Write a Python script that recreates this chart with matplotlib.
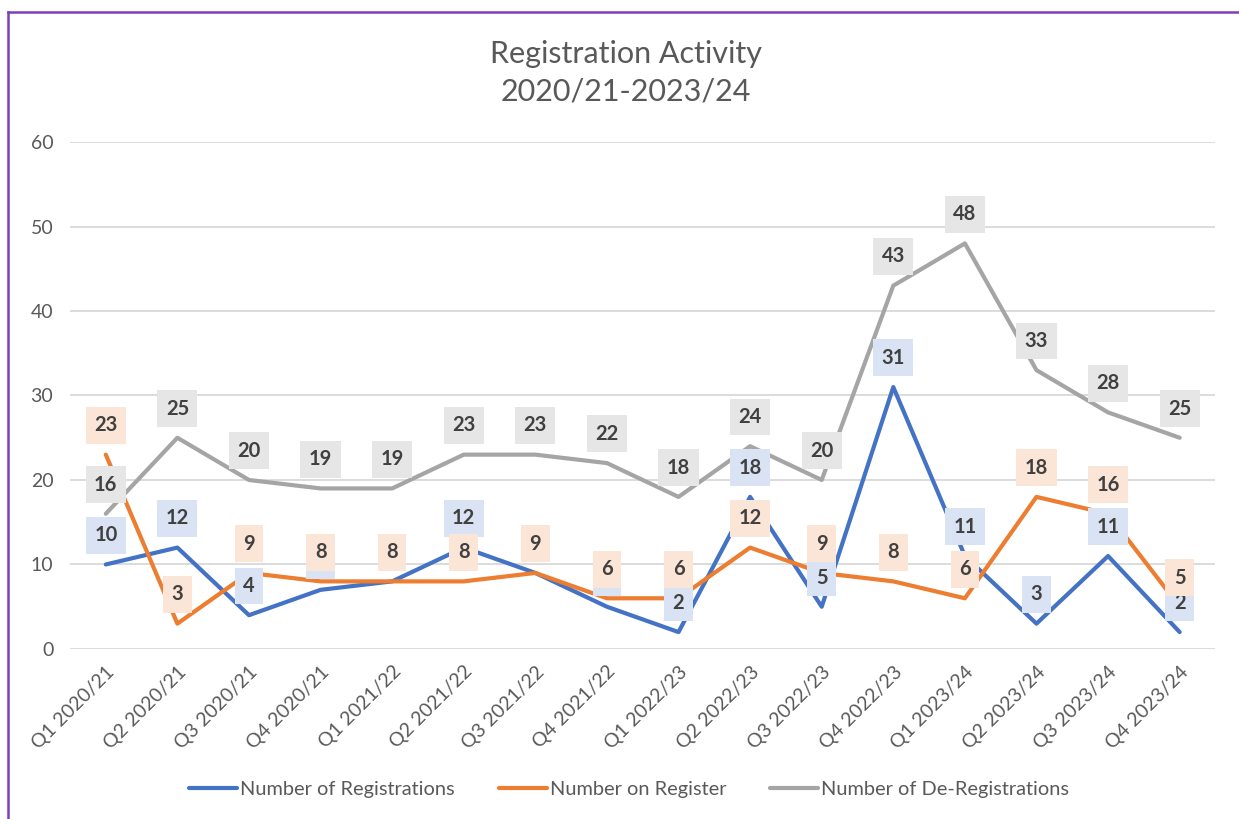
import matplotlib.pyplot as plt
import numpy as np
from matplotlib.lines import Line2D

plt.rcParams['font.family'] = ['Lato', 'DejaVu Sans']

quarters = ['Q1 2020/21', 'Q2 2020/21', 'Q3 2020/21', 'Q4 2020/21',
            'Q1 2021/22', 'Q2 2021/22', 'Q3 2021/22', 'Q4 2021/22',
            'Q1 2022/23', 'Q2 2022/23', 'Q3 2022/23', 'Q4 2022/23',
            'Q1 2023/24', 'Q2 2023/24', 'Q3 2023/24', 'Q4 2023/24']
registrations = [10, 12, 4, 7, 8, 12, 9, 5, 2, 18, 5, 31, 11, 3, 11, 2]
on_register = [23, 3, 9, 8, 8, 8, 9, 6, 6, 12, 9, 8, 6, 18, 16, 5]
de_registrations = [16, 25, 20, 19, 19, 23, 23, 22, 18, 24, 20, 43, 48, 33, 28, 25]

series = [
    ('Number of Registrations', registrations, '#4472C4', '#DAE3F3'),
    ('Number on Register', on_register, '#ED7D31', '#FBE5D6'),
    ('Number of De-Registrations', de_registrations, '#A5A5A5', '#E7E6E6'),
]

fig = plt.figure(figsize=(12.39, 8.19), dpi=100)
ax = fig.add_axes([0.0565, 0.2076, 0.9245, 0.619])

x = np.arange(len(quarters))
for name, vals, col, bg in series:
    ax.plot(x, vals, color=col, lw=3, solid_capstyle='round', label=name, zorder=3)
for name, vals, col, bg in series:
    for xi, v in zip(x, vals):
        ax.annotate(str(v), (xi, v), xytext=(0, 21), textcoords='offset points',
                    ha='center', va='center', fontsize=14.5, fontweight='bold',
                    color='#404040', zorder=5,
                    bbox=dict(boxstyle='square,pad=0.42', fc=bg, ec='none'))

ax.set_xlim(-0.5, len(quarters) - 0.5)
ax.set_ylim(0, 60)
ax.set_yticks(range(0, 61, 10))
ax.set_xticks(x)
ax.set_xticklabels(quarters, rotation=45, ha='right', rotation_mode='anchor')
ax.tick_params(axis='both', length=0, colors='#595959', labelsize=14)
ax.tick_params(axis='y', pad=12)
ax.tick_params(axis='x', pad=10)
ax.grid(axis='y', color='#D9D9D9', lw=1.3)
ax.set_axisbelow(True)
for s in ax.spines.values():
    s.set_visible(False)

fig.text(0.505, 0.911, 'Registration Activity\n2020/21-2023/24', ha='center', va='center',
         fontsize=22, color='#595959', linespacing=1.4)

handles = [Line2D([], [], color=c, lw=3, solid_capstyle='round') for _, _, c, _ in series]
fig.legend(handles, [s[0] for s in series], loc='center', bbox_to_anchor=(0.508, 0.036),
           ncol=3, frameon=False, fontsize=14.4, labelcolor='#595959',
           handlelength=2.4, handletextpad=0.15, columnspacing=2.2)

# purple frame edges from the screenshot
fig.add_artist(Line2D([0.0065, 0.0065], [0, 0.985], color='#7E3FB8', lw=1.8, transform=fig.transFigure))
fig.add_artist(Line2D([0.0065, 1], [0.985, 0.985], color='#7E3FB8', lw=1.8, transform=fig.transFigure))

fig.savefig('out.png', dpi=100)
